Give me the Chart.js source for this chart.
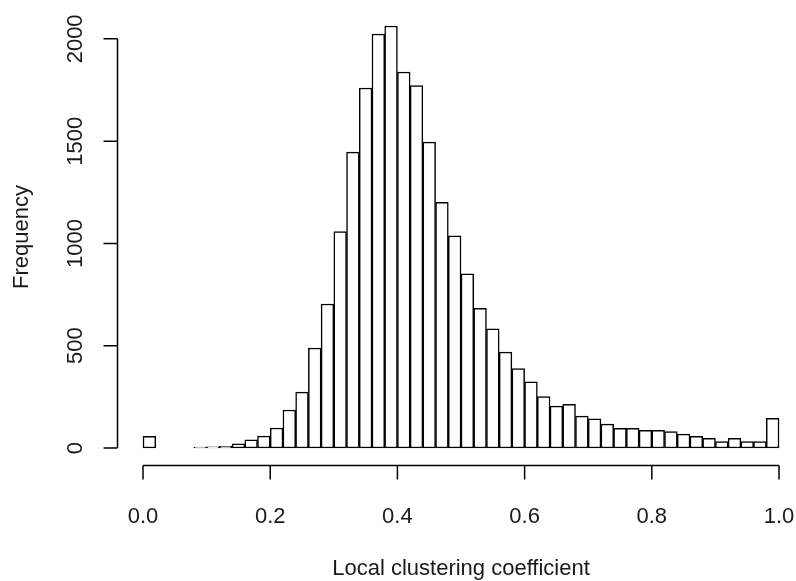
<!DOCTYPE html>
<html>
<head>
<meta charset="utf-8">
<script src="https://cdn.jsdelivr.net/npm/chart.js@4.4.1/dist/chart.umd.min.js"></script>
<style>
  body { margin: 0; background: #fff; }
  #wrap { width: 796px; height: 581px; }
</style>
</head>
<body>
<div id="wrap"><canvas id="hist" width="796" height="581"></canvas></div>
<script>
// histogram bins: left edge of each 0.02 wide bin
const binWidth = 0.02;
const binStarts = [
  0.00, 0.02, 0.04, 0.06, 0.08, 0.10, 0.12, 0.14, 0.16, 0.18,
  0.20, 0.22, 0.24, 0.26, 0.28, 0.30, 0.32, 0.34, 0.36, 0.38,
  0.40, 0.42, 0.44, 0.46, 0.48, 0.50, 0.52, 0.54, 0.56, 0.58,
  0.60, 0.62, 0.64, 0.66, 0.68, 0.70, 0.72, 0.74, 0.76, 0.78,
  0.80, 0.82, 0.84, 0.86, 0.88, 0.90, 0.92, 0.94, 0.96, 0.98
];
// frequency in each bin
const counts = [
  57, 0, 0, 0, 5, 6, 8, 21, 40, 58,
  98, 186, 273, 489, 704, 1058, 1446, 1760, 2024, 2063,
  1838, 1772, 1495, 1201, 1037, 851, 683, 583, 469, 388,
  323, 251, 205, 214, 156, 143, 117, 96, 96, 86,
  86, 80, 68, 57, 47, 31, 47, 31, 31, 145
];
const xTicks = [0, 0.2, 0.4, 0.6, 0.8, 1.0];
const xTickLabels = ['0.0', '0.2', '0.4', '0.6', '0.8', '1.0'];
const yTicks = [0, 500, 1000, 1500, 2000];
const yTickLabels = ['0', '500', '1000', '1500', '2000'];
const xTitle = 'Local clustering coefficient';
const yTitle = 'Frequency';

const FONT = '22px "Liberation Sans", Arial, sans-serif';
const INK = '#1a1a1a';

// R style axes: lines only over the tick range, ticks pointing outwards
const rAxes = {
  id: 'rAxes',
  afterDraw(chart) {
    const ctx = chart.ctx;
    const area = chart.chartArea;
    const xs = chart.scales.x;
    const ys = chart.scales.y;
    ctx.save();
    ctx.strokeStyle = '#000';
    ctx.lineWidth = 1.5;
    ctx.fillStyle = INK;
    ctx.font = FONT;

    // x axis
    const yAx = Math.round(area.bottom) + 0.5;
    ctx.beginPath();
    ctx.moveTo(xs.getPixelForValue(xTicks[0]), yAx);
    ctx.lineTo(xs.getPixelForValue(xTicks[xTicks.length - 1]), yAx);
    xTicks.forEach(v => {
      const px = xs.getPixelForValue(v);
      ctx.moveTo(px, yAx);
      ctx.lineTo(px, yAx + 14);
    });
    ctx.stroke();
    ctx.textAlign = 'center';
    ctx.textBaseline = 'middle';
    xTicks.forEach((v, i) => {
      ctx.fillText(xTickLabels[i], xs.getPixelForValue(v), yAx + 51);
    });
    ctx.fillText(xTitle, xs.getPixelForValue(0.5), yAx + 103);

    // y axis
    const xAx = Math.round(area.left) + 0.5;
    ctx.beginPath();
    ctx.moveTo(xAx, ys.getPixelForValue(yTicks[0]));
    ctx.lineTo(xAx, ys.getPixelForValue(yTicks[yTicks.length - 1]));
    yTicks.forEach(v => {
      const py = ys.getPixelForValue(v);
      ctx.moveTo(xAx, py);
      ctx.lineTo(xAx - 14, py);
    });
    ctx.stroke();
    yTicks.forEach((v, i) => {
      ctx.save();
      ctx.translate(xAx - 42, ys.getPixelForValue(v));
      ctx.rotate(-Math.PI / 2);
      ctx.fillText(yTickLabels[i], 0, 0);
      ctx.restore();
    });
    ctx.save();
    ctx.translate(22, (area.top + area.bottom) / 2);
    ctx.rotate(-Math.PI / 2);
    ctx.fillText(yTitle, 0, 0);
    ctx.restore();

    ctx.restore();
  }
};

const ctx = document.getElementById('hist');
new Chart(ctx, {
  type: 'bar',
  data: {
    datasets: [{
      data: binStarts.map((b, i) => ({ x: b + binWidth / 2, y: counts[i] })),
      backgroundColor: '#ffffff',
      borderColor: '#000000',
      borderWidth: 1.5,
      borderSkipped: false,
      barPercentage: 1,
      categoryPercentage: 1
    }]
  },
  options: {
    responsive: false,
    animation: false,
    devicePixelRatio: 1,
    layout: { padding: { left: 117, right: 0, top: 9, bottom: 116 } },
    plugins: { legend: { display: false }, tooltip: { enabled: false } },
    scales: {
      x: { type: 'linear', display: false, offset: false, min: -0.0409, max: 1.0267 },
      y: { display: false, min: -83, max: 2146 }
    }
  },
  plugins: [rAxes]
});
</script>
</body>
</html>
